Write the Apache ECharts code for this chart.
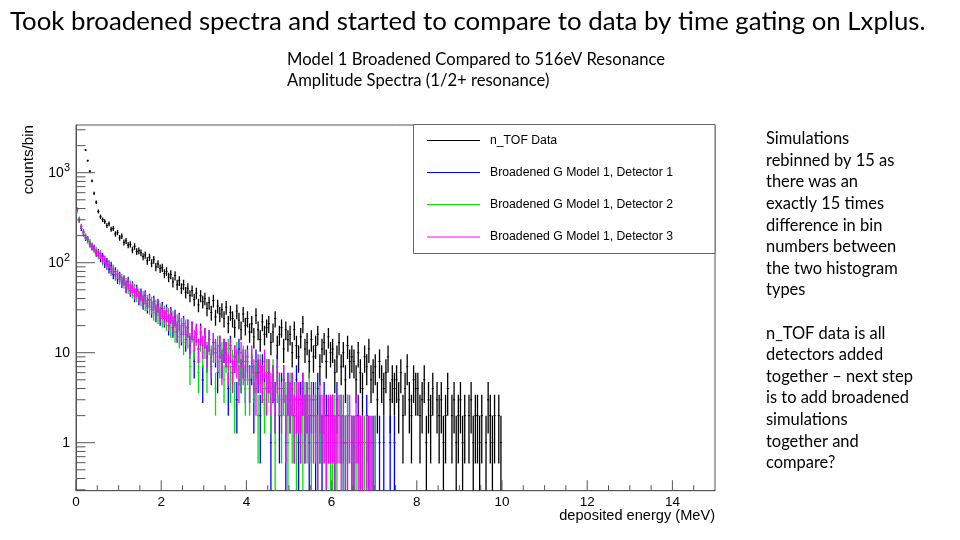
<!DOCTYPE html>
<html>
<head>
<meta charset="utf-8">
<script src="https://cdn.jsdelivr.net/npm/echarts@6/dist/echarts.min.js"></script>
<style>
html,body{margin:0;padding:0;background:#fff;}
#c{width:960px;height:540px;}
</style>
</head>
<body>
<div id="c"></div>
<script>
// ---------- data (counts per bin) ----------
const BIN_WIDTH = 0.05;      // MeV
const DATA_START = 0.20;     // first n_TOF bin lower edge (MeV)
const SIM_START = 0.00;      // first simulation bin lower edge (MeV)

const nTOF = [
  1790,1360,1040,810,590,470,
  372,325,301,287,259,271,236,240,209,216,
  189,197,168,175,157,160,139,152,133,136,
  129,117,122,105,115,99,108,90,97,86,
  88,76,80,69,74,61,72,57,63,52,
  57,47,52,43,49,39,46,34,43,37,
  40,31,36,28,38,25,33,27,30,24,
  32,21,28,24,19,29,23,18,27,20,
  24,17,21,15,26,18,14,22,16,19,
  21,13,17,24,12,16,19,11,18,14,
  16,10,18,12,9,15,21,11,13,8,
  14,9,12,16,7,11,13,8,15,10,
  11,6,9,13,7,10,5,12,8,9,
  8,5,10,6,4,9,7,11,5,6,
  7,3,8,5,4,6,9,3,5,4,
  5,3,6,2,4,7,3,2,5,4,
  4,2,3,5,1,3,2,4,0,3,
  2,3,1,2,4,0,2,3,1,2,
  3,1,2,0,2,3,1,2,2,1,
  2,0,1,3,2,1,2,0,2,1
];

const detector1 = [
  392,296,241,220,188,183,160,149,146,128,
  131,112,118,97,103,85,93,74,80,66,
  71,60,64,53,62,49,55,43,50,40,
  45,36,43,33,39,30,37,27,34,25,
  31,24,29,20,27,19,25,17,23,16,
  21,14,19,12,18,8,16,11,17,5,
  15,9,14,7,13,10,6,12,8,11,
  10,4,12,7,9,3,11,6,8,5,
  9,5,7,3,8,6,2,7,4,6,
  6,1,5,3,7,2,4,5,1,4,
  3,4,2,5,1,3,4,2,3,1,
  2,3,1,4,2,1,3,2,0,2,
  2,1,3,0,2,1,1,2,0,1,
  1,0,2,1,1,0,2,1,0,1,
  1,0,1,0,1,0,0,1,0,1
];

const detector2 = [
  371,309,255,208,199,176,170,155,138,139,
  120,127,104,110,92,97,80,86,71,76,
  65,67,59,60,52,56,47,51,43,45,
  39,42,35,38,32,36,28,33,26,30,
  24,28,22,26,19,24,17,22,15,20,
  13,19,15,7,17,12,16,6,14,10,
  12,6,13,9,11,4,12,8,10,5,
  9,11,5,8,3,10,7,6,9,4,
  7,4,8,5,6,2,7,5,3,6,
  5,3,6,1,5,4,2,4,3,1,
  4,2,3,1,3,2,1,3,2,4,
  1,2,3,1,2,0,2,1,2,1,
  1,2,1,0,2,1,1,2,0,1,
  1,1,0,1,0,1,1,0,1,0,
  1,0,0,0,0,0,0,0,0,0
];

const detector3 = [
  385,302,252,218,193,181,163,153,144,131,
  126,121,107,108,94,96,84,83,74,74,
  69,62,64,56,58,51,53,46,48,42,
  44,38,41,35,38,32,35,29,33,27,
  29,25,27,22,26,21,24,18,22,17,
  20,16,19,13,18,14,17,11,16,12,
  15,10,14,8,13,11,9,12,7,11,
  10,7,11,6,9,8,5,10,7,8,
  8,5,9,6,4,7,6,5,8,4,
  6,4,5,3,6,4,3,5,2,4,
  3,4,2,3,3,2,4,2,3,2,
  3,2,2,1,3,2,2,1,2,2,
  2,1,2,2,1,2,1,1,2,1,
  1,2,1,1,1,0,1,1,1,1,
  0,0,0,0,0,0,0,0,0,0
];

const SERIES_NAMES = ['n_TOF Data','Broadened G Model 1, Detector 1','Broadened G Model 1, Detector 2','Broadened G Model 1, Detector 3'];

// axes
const X_MIN = 0, X_MAX = 15, X_STEP = 2;
const X_MINOR = [0.5,1,1.5,2.5,3,3.5,4.5,5,5.5,6.5,7,7.5,8.5,9,9.5,10.5,11,11.5,12.5,13,13.5,14.5];
const X_MAJOR = [0,2,4,6,8,10,12,14];
const Y_MIN = 0.293, Y_MAX = 3390;
const Y_MAJOR = [1,10,100,1000];
const Y_MINOR = [0.3,0.4,0.5,0.6,0.7,0.8,0.9,2,3,4,5,6,7,8,9,20,30,40,50,60,70,80,90,200,300,400,500,600,700,800,900,2000,3000];

// ---------- layout / style ----------
const COLORS = ['#000000','#0000ff','#00e000','#ff00ff'];
const SLIDE_FONT = 'Lato';
const PLOT_FONT = 'Liberation Sans';
const G = {left:76, top:125, right:715, bottom:490.7};

function fitSize(text, family, width){
  const ctx = document.createElement('canvas').getContext('2d');
  ctx.font = '100px "' + family + '"';
  return 100 * width / ctx.measureText(text).width;
}

function toPairs(arr, start){
  const out = [];
  arr.forEach(function(n, i){ if (n > 0) out.push([start + (i + 0.5) * BIN_WIDTH, n]); });
  return out;
}

function histRender(color){
  return function(params, api){
    const x = api.value(0), n = api.value(1);
    const e = Math.sqrt(n);
    const lo = Math.max(n - e, Y_MIN);
    const top = api.coord([x, n + e]);
    const bot = api.coord([x, lo]);
    const l = api.coord([x - BIN_WIDTH / 2, n]);
    const r = api.coord([x + BIN_WIDTH / 2, n]);
    return {type:'group', children:[
      {type:'line', shape:{x1:top[0], y1:top[1], x2:bot[0], y2:bot[1]}, style:{stroke:color, lineWidth:1.3}},
      {type:'line', shape:{x1:l[0], y1:l[1], x2:r[0], y2:r[1]}, style:{stroke:color, lineWidth:1}}
    ]};
  };
}

const tickData = [];
X_MAJOR.forEach(v => tickData.push([v, Y_MIN, 0, 10.5]));
X_MINOR.forEach(v => tickData.push([v, Y_MIN, 0, 5.5]));
Y_MAJOR.forEach(v => tickData.push([X_MIN, v, 1, 19]));
Y_MINOR.forEach(v => tickData.push([X_MIN, v, 1, 9.5]));

function tickRender(params, api){
  const p = api.coord([api.value(0), api.value(1)]);
  const dir = api.value(2), len = api.value(3);
  const shape = dir === 0 ? {x1:p[0], y1:p[1], x2:p[0], y2:p[1] - len}
                          : {x1:p[0], y1:p[1], x2:p[0] + len, y2:p[1]};
  return {type:'line', shape:shape, style:{stroke:'#555', lineWidth:1}};
}

const series = [
  {name:SERIES_NAMES[0], type:'custom', clip:true, renderItem:histRender(COLORS[0]), data:toPairs(nTOF, DATA_START), animation:false},
  {name:SERIES_NAMES[1], type:'custom', clip:true, renderItem:histRender(COLORS[1]), data:toPairs(detector1, SIM_START), animation:false},
  {name:SERIES_NAMES[2], type:'custom', clip:true, renderItem:histRender(COLORS[2]), data:toPairs(detector2, SIM_START), animation:false},
  {name:SERIES_NAMES[3], type:'custom', clip:true, renderItem:histRender(COLORS[3]), data:toPairs(detector3, SIM_START), animation:false},
  {name:'ticks', type:'custom', clip:false, renderItem:tickRender, data:tickData, animation:false, silent:true, z:5}
];

// ---------- slide texts ----------
const TITLE = 'Took broadened spectra and started to compare to data by time gating on Lxplus.';
const SUB1 = 'Model 1 Broadened Compared to 516eV Resonance';
const SUB2 = 'Amplitude Spectra (1/2+ resonance)';
const NOTES = ['Simulations','rebinned by 15 as','there was an','exactly 15 times','difference in bin','numbers between','the two histogram','types','','n_TOF data is all','detectors added','together \u2013 next step','is to add broadened','simulations','together and','compare?'];

const titleSize = fitSize(TITLE, SLIDE_FONT, 916);
const subSize = fitSize(SUB1, SLIDE_FONT, 378);
const noteSize = fitSize('together \u2013 next step', SLIDE_FONT, 147);
const legSize = fitSize(SERIES_NAMES[1], PLOT_FONT, 183);

const graphics = [];
graphics.push({type:'text', x:10, y:30 - titleSize * 0.33, style:{text:TITLE, font:titleSize.toFixed(2) + 'px ' + SLIDE_FONT, fill:'#000', verticalAlign:'middle'}});
graphics.push({type:'text', x:287, y:65 - subSize * 0.33, style:{text:SUB1, font:subSize.toFixed(2) + 'px ' + SLIDE_FONT, fill:'#000', verticalAlign:'middle'}});
graphics.push({type:'text', x:287, y:86.5 - subSize * 0.33, style:{text:SUB2, font:subSize.toFixed(2) + 'px ' + SLIDE_FONT, fill:'#000', verticalAlign:'middle'}});
NOTES.forEach(function(t, i){
  if (!t) return;
  graphics.push({type:'text', x:766, y:144.3 + i * 21.6 - noteSize * 0.33, style:{text:t, font:noteSize.toFixed(2) + 'px ' + SLIDE_FONT, fill:'#000', verticalAlign:'middle'}});
});
// axis titles
graphics.push({type:'text', x:715, y:516, style:{text:'deposited energy (MeV)', font:'14.6px "' + PLOT_FONT + '"', fill:'#000', align:'right', verticalAlign:'middle'}});
graphics.push({type:'text', x:28.5, y:125, rotation:Math.PI / 2, style:{text:'counts/bin', font:'15.2px "' + PLOT_FONT + '"', fill:'#000', align:'right', verticalAlign:'middle'}});
// legend box
const LEG = {x:413.5, y:124.5, w:301.5, h:129};
graphics.push({type:'rect', z:10, shape:{x:LEG.x, y:LEG.y, width:LEG.w, height:LEG.h}, style:{fill:'#fff', stroke:'#666', lineWidth:1}});
const legY = [140.5, 172.5, 204.5, 237];
SERIES_NAMES.forEach(function(name, i){
  graphics.push({type:'line', z:11, shape:{x1:427, y1:legY[i], x2:480, y2:legY[i]}, style:{stroke:COLORS[i], lineWidth:1}});
  graphics.push({type:'text', z:11, x:490, y:legY[i], style:{text:name, font:legSize.toFixed(2) + 'px "' + PLOT_FONT + '"', fill:'#000', verticalAlign:'middle'}});
});

function yFmt(v){
  const p = Math.round(Math.log10(v));
  if (Math.abs(Math.log10(v) - p) > 1e-6) return '';
  if (p === 0) return '{b|1}';
  if (p === 1) return '{b|10}';
  return '{b|10}{s|' + p + '}';
}

const chart = echarts.init(document.getElementById('c'), null, {renderer:'canvas'});
chart.setOption({
  animation:false,
  backgroundColor:'#fff',
  grid:{left:G.left, top:G.top, width:G.right - G.left, height:G.bottom - G.top, show:true, borderColor:'#555', borderWidth:1, containLabel:false},
  xAxis:{type:'value', min:X_MIN, max:X_MAX, interval:X_STEP,
    axisLine:{show:true, lineStyle:{color:'#555', width:1}},
    axisTick:{show:false}, splitLine:{show:false},
    axisLabel:{show:true, margin:5, color:'#000', fontFamily:PLOT_FONT, fontSize:13.5, showMaxLabel:false}},
  yAxis:{type:'log', logBase:10, min:Y_MIN, max:Y_MAX,
    axisLine:{show:true, lineStyle:{color:'#555', width:1}},
    axisTick:{show:false}, splitLine:{show:false}, minorTick:{show:false},
    axisLabel:{show:true, margin:6, showMinLabel:false, showMaxLabel:false, formatter:yFmt,
      rich:{b:{fontFamily:PLOT_FONT, fontSize:14, color:'#000', lineHeight:20}, s:{fontFamily:PLOT_FONT, fontSize:11, color:'#000', verticalAlign:'top', lineHeight:12}}}},
  graphic:graphics,
  series:series
});
</script>
</body>
</html>
